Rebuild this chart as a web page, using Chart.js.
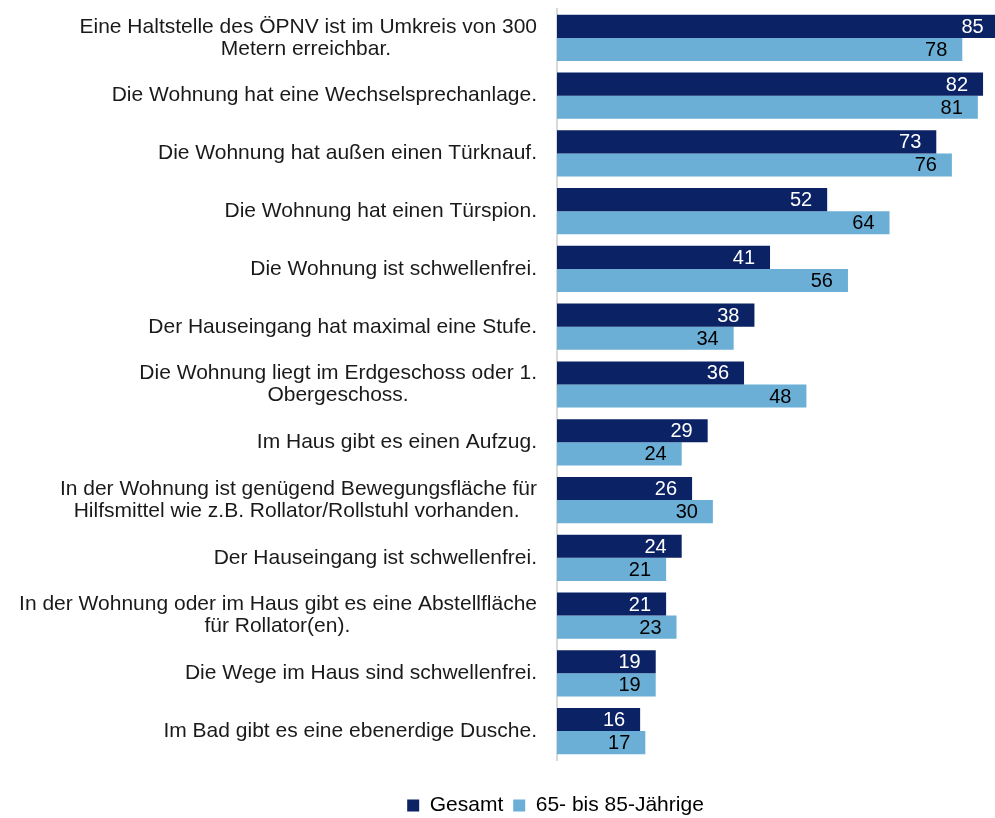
<!DOCTYPE html>
<html>
<head>
<meta charset="utf-8">
<script src="https://cdn.jsdelivr.net/npm/chart.js@4.4.1/dist/chart.umd.min.js"></script>
<style>
  html, body { margin: 0; padding: 0; background: #fff; }
  #wrap { width: 995px; height: 818px; }
</style>
</head>
<body>
<div id="wrap"><canvas id="chart"></canvas></div>
<script>
// Kategorien (Achsenbeschriftung)
const categories = [
    ['Eine Haltstelle des ÖPNV ist im Umkreis von 300', 'Metern erreichbar.'],
    ['Die Wohnung hat eine Wechselsprechanlage.'],
    ['Die Wohnung hat außen einen Türknauf.'],
    ['Die Wohnung hat einen Türspion.'],
    ['Die Wohnung ist schwellenfrei.'],
    ['Der Hauseingang hat maximal eine Stufe.'],
    ['Die Wohnung liegt im Erdgeschoss oder 1.', 'Obergeschoss.'],
    ['Im Haus gibt es einen Aufzug.'],
    ['In der Wohnung ist genügend Bewegungsfläche für', 'Hilfsmittel wie z.B. Rollator/Rollstuhl vorhanden.'],
    ['Der Hauseingang ist schwellenfrei.'],
    ['In der Wohnung oder im Haus gibt es eine Abstellfläche', 'für Rollator(en).'],
    ['Die Wege im Haus sind schwellenfrei.'],
    ['Im Bad gibt es eine ebenerdige Dusche.']
];

// Werte
const gesamtValues = [85, 82, 73, 52, 41, 38, 36, 29, 26, 24, 21, 19, 16];
const seniorenValues = [78, 81, 76, 64, 56, 34, 48, 24, 30, 21, 23, 19, 17];

const seriesNames = ['Gesamt', '65- bis 85-Jährige'];

const FONT = '"Liberation Sans", Arial, sans-serif';
const TICK_SIZE = 21;
const VALUE_SIZE = 20;

// mehrzeilige Beschriftungen zentriert untereinander (mit Leerzeichen auffüllen)
const measureCtx = document.createElement('canvas').getContext('2d');
measureCtx.font = TICK_SIZE + 'px ' + FONT;
function centerLines(lines) {
    if (lines.length < 2) return lines[0];
    const widths = lines.map(l => measureCtx.measureText(l).width);
    const maxW = Math.max(...widths);
    const spaceW = measureCtx.measureText(' ').width;
    return lines.map((l, i) => l + ' '.repeat(Math.round((maxW - widths[i]) / 2 / spaceW)));
}

// Werte an den Balkenenden
const valueLabels = {
    id: 'valueLabels',
    afterDatasetsDraw(chart) {
        const ctx = chart.ctx;
        ctx.save();
        ctx.font = VALUE_SIZE + 'px ' + FONT;
        ctx.textAlign = 'right';
        ctx.textBaseline = 'middle';
        chart.data.datasets.forEach((ds, di) => {
            const meta = chart.getDatasetMeta(di);
            meta.data.forEach((bar, i) => {
                ctx.fillStyle = di === 0 ? '#ffffff' : '#000000';
                ctx.fillText(ds.data[i], bar.x - 15, bar.y + 1);
            });
        });
        ctx.restore();
    }
};

// Legende nach rechts und unten schieben
const legendShift = {
    id: 'legendShift',
    afterLayout(chart) {
        const lg = chart.legend;
        lg.left += 58;
        lg.right += 58;
        lg.top += 25;
        lg.bottom += 25;
    }
};

const ctx = document.getElementById('chart').getContext('2d');
const chart = new Chart(ctx, {
    type: 'bar',
    data: {
        labels: categories,
        datasets: [
            {
                label: seriesNames[0],
                data: gesamtValues,
                backgroundColor: '#0b2265',
                borderWidth: 0
            },
            {
                label: seriesNames[1],
                data: seniorenValues,
                backgroundColor: '#6baed6',
                borderWidth: 0
            }
        ]
    },
    options: {
        indexAxis: 'y',
        responsive: true,
        maintainAspectRatio: false,
        animation: false,
        categoryPercentage: 0.8,
        barPercentage: 1.0,
        layout: {
            padding: { top: 9, right: 0, bottom: 17, left: 0 }
        },
        plugins: {
            legend: {
                position: 'bottom',
                labels: {
                    boxWidth: 12,
                    boxHeight: 12,
                    padding: 10,
                    color: '#000',
                    font: { family: FONT, size: 21 }
                }
            },
            tooltip: { enabled: false }
        },
        scales: {
            x: {
                display: false,
                min: 0,
                max: 84.3
            },
            y: {
                afterFit(scale) {
                    scale.width = 557;
                    scale.paddingTop = 0;
                    scale.paddingBottom = 0;
                },
                grid: { display: false, drawTicks: false },
                border: { display: true, color: '#d9d9d9', width: 2 },
                ticks: {
                    padding: 20,
                    color: '#1a1a1a',
                    font: { family: FONT, size: TICK_SIZE, lineHeight: '22px' },
                    autoSkip: false,
                    callback: (value, index) => centerLines(categories[index])
                }
            }
        }
    },
    plugins: [valueLabels, legendShift]
});
</script>
</body>
</html>
